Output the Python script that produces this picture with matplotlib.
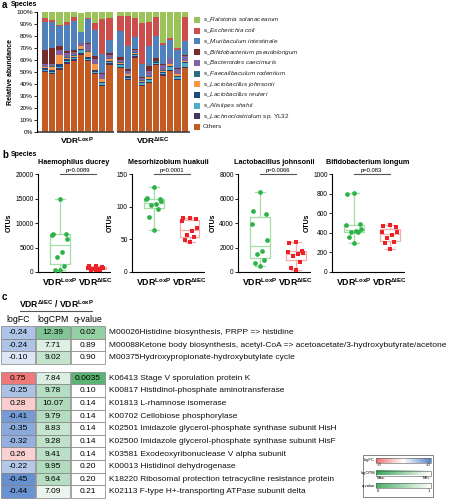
import numpy as np
import matplotlib
matplotlib.use("Agg")
import matplotlib.pyplot as plt
from matplotlib.patches import Rectangle
from matplotlib.colors import LinearSegmentedColormap, TwoSlopeNorm, Normalize
from matplotlib.ticker import PercentFormatter

plt.rcParams['font.family'] = ['Liberation Sans', 'DejaVu Sans']
plt.rcParams['mathtext.fontset'] = 'custom'
plt.rcParams['mathtext.rm'] = 'Liberation Sans'
plt.rcParams['mathtext.it'] = 'Liberation Sans:italic'
plt.rcParams['mathtext.bf'] = 'Liberation Sans:bold'

W, H = 453, 500

# ---------------- panel a data (percent, bottom -> top of stack) ----------------
others   = [50, 48, 52, 57, 59.5, 64, 59, 48, 38.5, 56,   53, 43, 61.5, 38, 40.5, 56, 47, 50.5, 43.5, 53]
lachno   = [1, 1, 1, 1, 1, 1.5, 1, 1, 1, 1.5,             1, 1, 2, 1, 1, 0.5, 1, 1, 1, 1.5]
alistip  = [1, 1, 1, 1, 1, 3, 1, 1, 1.5, 1,               1.5, 1, 1, 1.5, 1.5, 1, 1, 2.5, 1, 3]
reuteri  = [1, 1.5, 3, 1.5, 1, 1, 1.5, 1.5, 1, 1,         1, 1.5, 0.5, 1, 1, 0.5, 1, 1, 1.5, 0.5]
johnson  = [1, 3, 7, 1.5, 1, 2, 4.5, 5, 2, 1,             1, 1.5, 1, 1, 2, 0.5, 1, 1.5, 1, 1]
faecal   = [0.5] * 20
bacter   = [2, 2, 3.5, 3.5, 3, 2, 6, 3.5, 4, 3,           2, 2, 1.5, 2, 4, 0.5, 4.5, 4.5, 4, 3.5]
bifido   = [11.5, 13, 4, 1.5, 1, 0.5, 0.5, 2.5, 1, 2,     2.5, 2, 1.5, 0.5, 4.5, 2.5, 0.5, 0.5, 0.5, 1]
murib    = [24, 22, 16, 21.5, 24.5, 9, 20, 22, 15.5, 11,  21.5, 19, 10, 11, 17, 18, 16, 14.5, 15.5, 11.5]
ecoli    = [3, 1, 1, 3, 3.5, 0, 1, 6, 29, 18,             12.5, 25, 15.5, 34.5, 20, 15.5, 1.5, 1.5, 1.5, 20]
ralston  = [5, 7, 11, 8, 4, 16, 5, 9, 6, 5,               3.5, 3.5, 5, 9, 8, 4.5, 26, 22, 30, 4.5]

stack = [others, lachno, alistip, reuteri, johnson, faecal, bacter, bifido, murib, ecoli, ralston]
stack_colors = ['#C35B22', '#46345F', '#4BACC6', '#1F497D', '#F79646', '#2C6E7F',
                '#8064A2', '#772C2A', '#4F81BD', '#CC4E4C', '#9BC35A']
legend_names = [('', 'Ralstonia solanacearum', ''), ('', 'Escherichia coli', ''),
                ('', 'Muribaculum intestinale', ''), ('', 'Bifidobacterium pseudolongum', ''),
                ('', 'Bacteroides caecimuris', ''), ('', 'Faecalibaculum rodentium', ''),
                ('', 'Lactobacillus johnsonii', ''), ('', 'Lactobacillus reuteri', ''),
                ('', 'Alistipes shahii', ''), ('', 'Lachnoclostridium', ' sp. YL32'),
                ('Others', '', '')]
groups = ['LoxP', r'\Delta IEC']

# ---------------- panel b data (OTUs) ----------------
titles = ['Haemophilus ducrey', 'Mesorhizobium huakuii', 'Lactobacillus johnsonii', 'Bifidobacterium longum']
loxp_vals = [
    [15000, 7700, 7700, 7600, 6800, 4100, 3000, 1200, 500, 450],
    [130, 114, 112, 111, 108, 104, 103, 96, 84, 64],
    [6500, 5000, 4700, 3900, 2600, 1700, 1500, 1000, 700, 500],
    [810, 795, 485, 475, 435, 420, 410, 405, 360, 295],
]
iec_vals = [
    [1300, 1150, 1000, 900, 800, 700, 600, 500, 450, 350],
    [82, 82, 81, 78, 68, 62, 56, 53, 49, 46],
    [2450, 2350, 1700, 1650, 1550, 1450, 1300, 850, 350, 200],
    [480, 465, 455, 410, 405, 375, 345, 305, 300, 235],
]
pvals = ['p=0.0089', 'p=0.0001', 'p=0.0066', 'p=0.083']
ymaxs = [20000, 150, 8000, 1000]
ysteps = [5000, 50, 2000, 200]

# ---------------- panel c data ----------------
ids = ['M00026', 'M00088', 'M00375', 'K06413', 'K00817', 'K01813', 'K00702',
       'K02501', 'K02500', 'K03581', 'K00013', 'K18220', 'K02113']
descs = ['Histidine biosynthesis, PRPP => histidine',
         'Ketone body biosynthesis, acetyl-CoA => acetoacetate/3-hydroxybutyrate/acetone',
         'Hydroxypropionate-hydroxybutylate cycle',
         'Stage V sporulation protein K',
         'Histidinol-phosphate aminotransferase',
         'L-rhamnose isomerase',
         'Cellobiose phosphorylase',
         'Imidazole glycerol-phosphate synthase subunit HisH',
         'Imidazole glycerol-phosphate synthase subunit HisF',
         'Exodeoxyribonuclease V alpha subunit',
         'Histidinol dehydrogenase',
         'Ribosomal protection tetracycline resistance protein',
         'F-type H+-transporting ATPase subunit delta']
logfc = [-0.24, -0.24, -0.10, 0.75, -0.25, 0.28, -0.41, -0.35, -0.32, 0.26, -0.22, -0.45, -0.44]
logcpm = [12.39, 7.71, 9.02, 7.84, 9.78, 10.07, 9.79, 8.83, 9.28, 9.41, 9.95, 9.64, 7.09]
qval = ['0.02', '0.89', '0.90', '0.0035', '0.10', '0.14', '0.14', '0.14', '0.14', '0.14', '0.20', '0.20', '0.21']
n_module_rows = 3


def px_box(l, t, r, b):
    return [l / W, 1 - b / H, (r - l) / W, (b - t) / H]


fig = plt.figure(figsize=(W / 100, H / 100), dpi=100)

# overlay in pixel units for annotations / table
ov = fig.add_axes([0, 0, 1, 1], zorder=-1)
ov.patch.set_visible(False)
ov.axis('off')

# ================= panel a =================
axa = fig.add_axes(px_box(37, 12, 190, 132))
xs = np.r_[np.arange(10), np.arange(10) + 10.55]
bottom = np.zeros(20)
for vals, col in zip(stack, stack_colors):
    axa.bar(xs, vals, bottom=bottom, width=0.86, color=col, linewidth=0)
    bottom += np.array(vals)
axa.set_xlim(-1.16, 20.3)
axa.set_ylim(0, 100)
axa.set_yticks(np.arange(0, 101, 10))
axa.yaxis.set_major_formatter(PercentFormatter(decimals=0))
axa.tick_params(axis='y', labelsize=4.6, length=2, width=0.6, pad=1)
axa.set_xticks([])
for s in ['top', 'right', 'bottom']:
    axa.spines[s].set_visible(False)
axa.spines['left'].set_linewidth(0.8)
axa.hlines(0, -1.16, 9.6, color='#404040', lw=1.2, clip_on=False)
axa.hlines(0, 10.0, 20.3, color='#404040', lw=1.2, clip_on=False)
axa.text(4.5, -3, r'$\mathbf{VDR^{LoxP}}$', ha='center', va='top', fontsize=6)
axa.text(15.05, -3, r'$\mathbf{VDR^{\Delta IEC}}$', ha='center', va='top', fontsize=6)
axa.set_ylabel('Relative abundance', fontsize=5, fontweight='bold', labelpad=1.5)

for i, ((plain, ital, tail), col) in enumerate(zip(legend_names, stack_colors[::-1])):
    y = 20 + i * 10.7
    ov.add_patch(Rectangle((194, y - 3), 6, 6, color=col, lw=0))
    if plain:
        lab = plain
    else:
        lab = 's_$\\it{' + ital.replace(' ', '\\ ') + '}$' + tail
    ov.text(203, y, lab, fontsize=4.6, va='center', ha='left', color='#222222')

ov.text(2, 5, 'a', fontsize=7, fontweight='bold', va='center')
ov.text(11, 5, 'Species', fontsize=5, fontweight='bold', va='center')

# ================= panel b =================
ov.text(2, 155, 'b', fontsize=7, fontweight='bold', va='center')
ov.text(11, 155, 'Species', fontsize=5, fontweight='bold', va='center')

lefts = [38, 132, 238, 332]
unit = 36
jit = [0, -0.17, 0.17, -0.2, 0.2, 0.06, -0.07, 0.13, -0.13, 0.0]
for k in range(4):
    left = lefts[k]
    ax = fig.add_axes(px_box(left, 174, left + 2.0 * unit, 272))
    ax.set_xlim(-0.6, 1.4)
    ax.set_ylim(0, ymaxs[k])
    for pos, vals, lc, pc, mk in [(0, loxp_vals[k], '#a6dca6', '#2bb34a', 'o'),
                                  (1, iec_vals[k], '#f6acac', '#ec2326', 's')]:
        ax.boxplot([vals], positions=[pos], widths=0.55, whis=(0, 100), showfliers=False,
                   capwidths=0.28,
                   boxprops=dict(color=lc, lw=0.9), whiskerprops=dict(color=lc, lw=0.9),
                   capprops=dict(color=lc, lw=0.9), medianprops=dict(color=lc, lw=0.9))
        ax.plot(pos + np.array(jit[:len(vals)]), vals, mk, color=pc, ms=3.4, mew=0, zorder=3)
    ax.set_yticks(np.arange(0, ymaxs[k] + 1, ysteps[k]))
    ax.tick_params(axis='y', labelsize=4.8, length=2, width=0.6, pad=1)
    ax.set_xticks([0, 1])
    ax.set_xticklabels([r'$\mathbf{VDR^{' + g + '}}$' for g in groups], fontsize=6.3)
    ax.tick_params(axis='x', length=0, pad=3)
    for s in ['top', 'right']:
        ax.spines[s].set_visible(False)
    ax.spines['left'].set_linewidth(0.8)
    ax.spines['bottom'].set_linewidth(0.8)
    ax.set_ylabel('OTUs', fontsize=5, fontweight='bold', labelpad=2)
    ax.set_title(titles[k], fontsize=5.2, fontweight='bold', pad=7)
    yl = ymaxs[k] * 1.0
    ax.plot([0, 1], [yl, yl], color='#555555', lw=0.8, clip_on=False)
    ax.text(0.5, yl * 1.01, pvals[k], ha='center', va='bottom', fontsize=4.2)

# ================= panel c =================
ov.text(2, 297, 'c', fontsize=7, fontweight='bold', va='center')
ov.text(56, 304, r'$\mathbf{VDR^{\Delta IEC}\ /\ VDR^{LoxP}}$', fontsize=6.2, ha='center', va='center')
ov.plot([20, 92], [311, 311], color='#555555', lw=0.8)
col_left = [1, 36, 71]
col_w = 34
for j, name in enumerate(['logFC', 'logCPM', 'q-value']):
    ov.text(col_left[j] + col_w / 2, 319.5, name, fontsize=6.3, ha='center', va='center')

fc_cmap = LinearSegmentedColormap.from_list('fc', ['#5784cb', '#ffffff', '#ee7171'])
fc_norm = TwoSlopeNorm(vmin=-0.5, vcenter=0, vmax=0.8)
cpm_cmap = LinearSegmentedColormap.from_list('cpm', ['#ffffff', '#3aa55a'])
cpm_norm = Normalize(6, 16)
q_cmap = LinearSegmentedColormap.from_list('q', ['#ffffff', '#4fb068'])

row_h = 12.6
for i in range(len(ids)):
    top = 326 + i * row_h + (8 if i >= n_module_rows else 0)
    qf = min(max(1 - float(qval[i]) / 0.05, 0), 1)
    cols = [fc_cmap(fc_norm(logfc[i])), cpm_cmap(cpm_norm(logcpm[i])), q_cmap(qf)]
    txts = ['%.2f' % logfc[i], '%.2f' % logcpm[i], qval[i]]
    for j in range(3):
        ov.add_patch(Rectangle((col_left[j], top), col_w, row_h, facecolor=cols[j],
                               edgecolor='#808080', lw=0.5))
        ov.text(col_left[j] + col_w / 2, top + row_h / 2 + 0.3, txts[j], fontsize=6,
                ha='center', va='center')
    sep = '' if i < n_module_rows else ' '
    ov.text(109, top + row_h / 2 + 0.3, ids[i] + sep + descs[i], fontsize=6.0,
            ha='left', va='center', color='#111111')

# colour key
ov.add_patch(Rectangle((363, 455), 70, 42, facecolor='white', edgecolor='#555555', lw=0.5))
key = [('logFC', fc_cmap, '>0', '<0'), ('logCPM', cpm_cmap, 'Max.', 'Min.'),
       ('q-value', q_cmap, '0', '1')]
grad = np.linspace(1, 0, 100).reshape(1, -1)
for i, (name, cm, lo, hi) in enumerate(key):
    y0 = 458 + i * 12.5
    ov.imshow(grad, extent=[376, 431, y0 + 5, y0], aspect='auto', cmap=cm, zorder=2)
    ov.add_patch(Rectangle((376, y0), 55, 5, fill=False, edgecolor='#555555', lw=0.4, zorder=3))
    ov.text(375, y0 + 2.5, name, fontsize=3, ha='right', va='center')
    ov.text(377, y0 + 7.5, lo, fontsize=3, ha='left', va='center')
    ov.text(430, y0 + 7.5, hi, fontsize=3, ha='right', va='center')

ov.set_xlim(0, W)
ov.set_ylim(H, 0)

fig.savefig('out.png', dpi=100)
